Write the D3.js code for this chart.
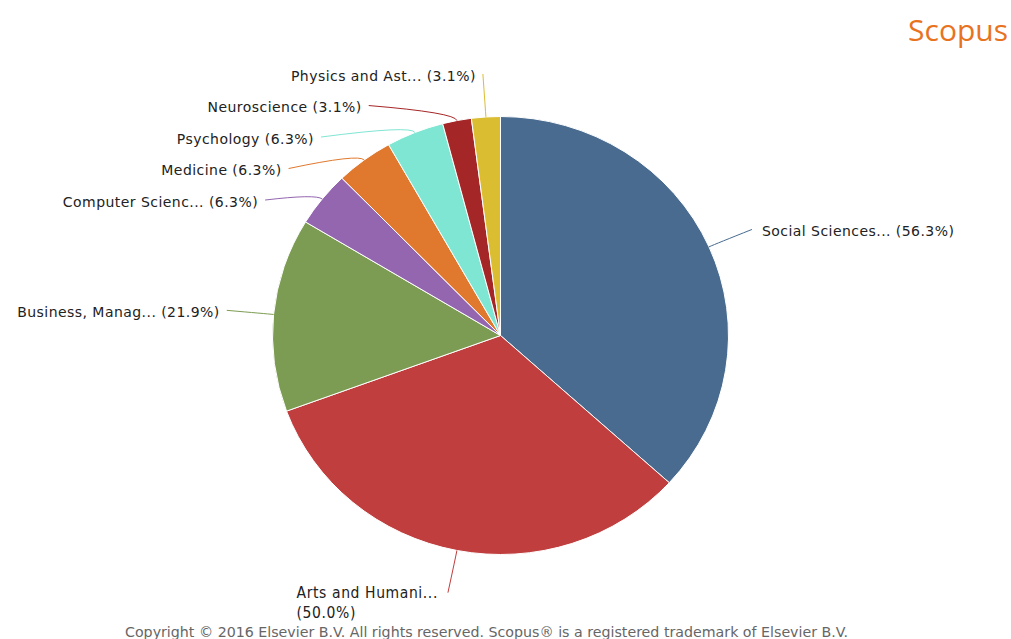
<!DOCTYPE html>
<html>
<head>
<meta charset="utf-8" />
<title>Scopus subject areas</title>
<script src="https://cdn.jsdelivr.net/npm/d3@7"></script>
<style>
html, body {
	margin: 0;
	background: #fff;
}
svg {
	display: block;
}
.lbl {
	font-family: "DejaVu Sans", sans-serif;
	font-size: 14px;
	letter-spacing: 0.45px;
	fill: #222;
}
.narrow {
	font-family: "DejaVu Sans Condensed", "DejaVu Sans", sans-serif;
	font-size: 15.5px;
	letter-spacing: 0.6px;
}
</style>
</head>
<body>
<div id="chart"></div>
<script>

// subject areas, in the order Scopus draws them (clockwise from 12 o'clock)
var categories = ["Social Sciences...", "Arts and Humani...", "Business, Manag...",
	"Computer Scienc...", "Medicine", "Psychology", "Neuroscience", "Physics and Ast..."];
var docCounts = [18, 16, 7, 2, 2, 2, 1, 1];      // documents per area (slice size)
var percents = [56.3, 50.0, 21.9, 6.3, 6.3, 6.3, 3.1, 3.1]; // shown in the labels
var palette = ["#486b8f", "#c03e3e", "#7d9c53", "#9466b0", "#e0792d", "#7fe6d3", "#a52627", "#dbbd32"];

var width = 1011, height = 639;
var cx = 500.5, cy = 335.5, rx = 228, ry = 219;
var labelRx = rx + 47, labelRy = ry + 43, slot = 31.5;

var data = categories.map(function (c, i) {
	return { name: c, count: docCounts[i], pct: percents[i], color: palette[i] };
});

var svg = d3.select("#chart").append("svg")
	.attr("width", width)
	.attr("height", height);

var pie = d3.pie().sort(null).value(function (d) { return d.count; });
var arcs = pie(data);

var arc = d3.arc().innerRadius(0).outerRadius(ry);

// the reference pie is slightly wider than tall
svg.append("g")
	.attr("transform", "translate(" + cx + "," + cy + ") scale(" + (rx / ry) + ",1)")
	.selectAll("path")
	.data(arcs)
	.enter().append("path")
	.attr("d", arc)
	.attr("fill", function (d) { return d.data.color; })
	.attr("stroke", "#fff")
	.attr("stroke-width", 1)
	.attr("vector-effect", "non-scaling-stroke");

// label layout: natural y on an outer ellipse, then push overlapping labels down
arcs.forEach(function (d) {
	d.mid = (d.startAngle + d.endAngle) / 2;
	d.left = Math.sin(d.mid) < 0;
	d.ex = cx + rx * Math.sin(d.mid);
	d.ey = cy - ry * Math.cos(d.mid);
	d.ly = cy - labelRy * Math.cos(d.mid);
});

[true, false].forEach(function (side) {
	var group = arcs.filter(function (d) { return d.left === side; })
		.sort(function (a, b) { return a.ly - b.ly; });
	for (var i = 1; i < group.length; i++) {
		if (group[i].ly < group[i - 1].ly + slot) group[i].ly = group[i - 1].ly + slot;
	}
});

arcs.forEach(function (d) {
	var t = (d.ly - cy) / labelRy;
	var off = labelRx * Math.sqrt(Math.max(0, 1 - t * t));
	d.lx = cx + (d.left ? -off : off);
	d.wrap = d.ly > height - 60;
});

var lines = svg.append("g");
lines.selectAll("path")
	.data(arcs)
	.enter().append("path")
	.attr("fill", "none")
	.attr("stroke", function (d) { return d.data.color; })
	.attr("stroke-width", 1)
	.attr("d", function (d) {
		var bx = d.ex + 8 * Math.sin(d.mid),
			by = d.ey - 8 * Math.cos(d.mid);
		return "M" + d.ex + "," + d.ey + "Q" + bx + "," + by + " " + d.lx + "," + d.ly;
	});

var labels = svg.append("g");
arcs.forEach(function (d) {
	var txt = d.data.name + " (" + d.data.pct.toFixed(1) + "%)";
	if (!d.wrap) {
		labels.append("text")
			.attr("class", "lbl")
			.attr("x", d.left ? d.lx - 7 : d.lx + 10)
			.attr("y", d.ly + 2)
			.attr("dy", "0.35em")
			.attr("text-anchor", d.left ? "end" : "start")
			.text(txt);
	} else {
		// wrapped label: block right-aligned to the connector, lines left-aligned
		var t = labels.append("text")
			.attr("class", "lbl narrow")
			.attr("y", d.ly)
			.attr("dy", "0.35em");
		var l1 = t.append("tspan").text(d.data.name);
		var l2 = t.append("tspan").text("(" + d.data.pct.toFixed(1) + "%)");
		var w = Math.max(l1.node().getComputedTextLength(), l2.node().getComputedTextLength());
		var x0 = d.lx - 10 - w;
		l1.attr("x", x0);
		l2.attr("x", x0).attr("dy", 20);
	}
});

svg.append("text")
	.attr("x", 1008)
	.attr("y", 41)
	.attr("text-anchor", "end")
	.attr("font-family", "'Open Sans', sans-serif")
	.attr("font-size", 30)
	.attr("fill", "#e8731f")
	.text("Scopus");

svg.append("text")
	.attr("x", 125)
	.attr("y", 637)
	.attr("font-family", "'DejaVu Sans Condensed', sans-serif")
	.attr("font-size", 14)
	.attr("fill", "#666")
	.attr("textLength", 723)
	.attr("lengthAdjust", "spacingAndGlyphs")
	.text("Copyright \u00a9 2016 Elsevier B.V. All rights reserved. Scopus\u00ae is a registered trademark of Elsevier B.V.");

</script>
</body>
</html>
